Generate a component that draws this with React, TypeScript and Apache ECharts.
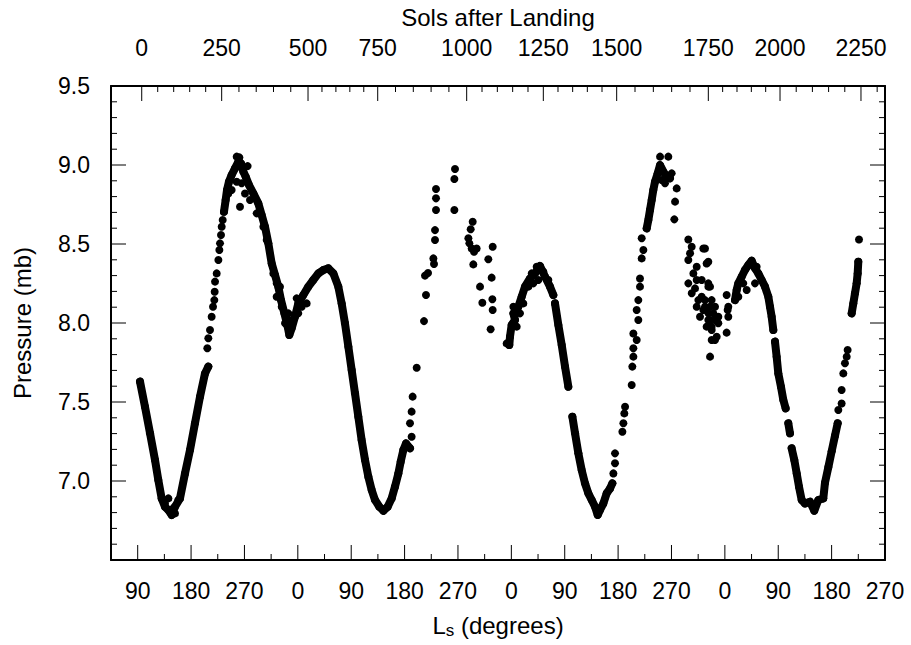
import React, { useEffect, useRef } from "react";
import * as echarts from "echarts";

// ---- axis definitions (cumulative Ls in degrees on the x scale) ----
const lsMin = 45;
const lsMax = 1350;
const lsMajorTicks = [90, 180, 270, 360, 450, 540, 630, 720, 810, 900, 990, 1080, 1170, 1260, 1350];
const lsMinorTicks = [135, 225, 315, 405, 495, 585, 675, 765, 855, 945, 1035, 1125, 1215, 1305];
const solTickLabels = [0, 250, 500, 750, 1000, 1250, 1500, 1750, 2000, 2250];
// positions (cumulative Ls) of the sol ticks
const solTickLs = [96.8, 231.6, 377.2, 494.7, 644.7, 773.9, 897.6, 1052.1, 1173.0, 1309.5];
const pMin = 6.5;
const pMax = 9.5;
const pMajorTicks = [6.5, 7.0, 7.5, 8.0, 8.5, 9.0, 9.5];
const pMinorTicks = [
  6.6, 6.7, 6.8, 6.9, 7.1, 7.2, 7.3, 7.4, 7.6, 7.7, 7.8, 7.9, 8.1, 8.2, 8.3, 8.4,
  8.6, 8.7, 8.8, 8.9, 9.1, 9.2, 9.3, 9.4,
];

// ---- data: [cumulative Ls (deg), pressure (mb)] ----
const trace1 = [
  [93.9, 7.629], [102.3, 7.47], [110.8, 7.302], [119.2, 7.133], [124.8, 7.006], [130.4, 6.89],
  [136.0, 6.837], [141.7, 6.816], [147.3, 6.785], [152.9, 6.837], [161.3, 6.89], [169.8, 7.048],
  [178.2, 7.196], [186.6, 7.365], [195.1, 7.534], [203.5, 7.681], [209.1, 7.724],
];
const trace2 = [
  [235.5, 8.704], [238.3, 8.778], [240.6, 8.842], [243.9, 8.894], [248.4, 8.937], [254.1, 8.979],
  [259.7, 9.021], [264.2, 9.01], [268.1, 8.958], [272.1, 8.926], [277.7, 8.873], [285.0, 8.82],
  [293.4, 8.757], [299.0, 8.684], [304.7, 8.609], [310.3, 8.504], [315.9, 8.377], [321.5, 8.304],
  [327.1, 8.23], [331.6, 8.145], [337.3, 8.061], [342.9, 7.977], [345.7, 7.924], [349.6, 7.966],
  [355.2, 8.04], [360.8, 8.124], [369.3, 8.177], [377.7, 8.23], [386.1, 8.272], [394.6, 8.314],
  [403.0, 8.335], [411.4, 8.346], [419.9, 8.314], [428.3, 8.23], [433.9, 8.124], [439.5, 7.998],
  [445.2, 7.85], [450.8, 7.702], [456.4, 7.555], [462.0, 7.407], [467.6, 7.259], [473.3, 7.133],
  [478.9, 7.027], [484.5, 6.943], [490.1, 6.88], [497.4, 6.837], [504.2, 6.812], [511.5, 6.837],
  [518.2, 6.89], [523.8, 6.964], [529.5, 7.048], [533.4, 7.122], [537.9, 7.196], [542.4, 7.238],
  [549.1, 7.207],
];
const trace3 = [
  [716.6, 7.861], [717.7, 7.913], [720.5, 7.987], [726.2, 8.019], [723.4, 8.061], [731.8, 8.103],
  [737.4, 8.166], [743.0, 8.23], [751.5, 8.282], [759.9, 8.314], [768.3, 8.361], [776.8, 8.293],
  [785.2, 8.23], [790.8, 8.177],
];
const trace4 = [[793.6, 8.124], [799.3, 7.987], [804.9, 7.861], [810.5, 7.724], [816.1, 7.597]];
const trace5 = [
  [822.9, 7.407], [827.4, 7.302], [833.0, 7.175], [838.6, 7.069], [844.2, 6.985], [849.8, 6.922],
  [855.5, 6.88], [861.1, 6.837], [865.6, 6.785], [869.5, 6.816], [875.1, 6.858], [880.8, 6.922],
  [886.4, 6.953], [890.3, 6.985],
];
const trace6 = [
  [948.2, 8.599], [951.0, 8.652], [953.8, 8.715], [956.6, 8.778], [959.4, 8.842], [962.2, 8.894],
  [966.7, 8.947], [970.7, 8.999], [976.3, 8.958], [981.9, 8.926], [987.5, 8.916],
];
const trace7 = [
  [1097.1, 8.145], [1099.9, 8.209], [1102.7, 8.251], [1108.3, 8.293], [1113.9, 8.335], [1119.6, 8.367],
  [1125.2, 8.394], [1130.8, 8.346], [1136.4, 8.314], [1142.0, 8.272], [1147.7, 8.23], [1153.3, 8.166],
  [1156.1, 8.103], [1158.9, 8.04], [1161.7, 7.956],
];
const trace8 = [[1164.5, 7.882], [1167.3, 7.787], [1170.1, 7.681], [1174.6, 7.597], [1178.6, 7.513], [1182.5, 7.46]];
const trace8b = [[1187.0, 7.365], [1189.8, 7.302]];
const trace9 = [
  [1192.6, 7.207], [1197.1, 7.133], [1201.1, 7.048], [1205.0, 6.964], [1209.5, 6.88], [1215.1, 6.858],
  [1223.5, 6.869], [1230.8, 6.812], [1237.6, 6.88], [1246.0, 6.89], [1248.8, 6.989], [1254.5, 7.088],
  [1260.1, 7.188], [1265.7, 7.287], [1270.2, 7.365],
];
const trace10 = [[1293.8, 8.061], [1296.6, 8.124], [1299.4, 8.188], [1302.2, 8.251], [1303.9, 8.314], [1305.0, 8.388]];

const scatterYear1 = [
  [136.0, 6.858], [141.7, 6.89], [152.9, 6.795], [158.5, 6.88], [150.1, 6.827],
  [207.4, 7.84], [209.1, 7.903], [211.9, 7.956], [214.7, 8.04], [217.0, 8.103], [219.2, 8.145],
  [219.8, 8.198], [220.4, 8.262], [223.2, 8.314], [226.0, 8.399], [227.7, 8.462], [228.8, 8.504],
  [230.5, 8.557], [231.6, 8.609], [233.3, 8.652],
  [256.9, 9.053], [261.4, 9.048], [275.4, 8.993], [262.5, 8.736], [248.4, 8.842], [256.9, 8.894],
  [265.3, 8.884], [270.9, 8.82], [279.4, 8.778], [242.8, 8.82], [290.6, 8.694], [301.9, 8.609],
  [307.5, 8.525], [318.7, 8.314], [324.3, 8.251],
  [324.3, 8.166], [332.8, 8.103], [338.4, 7.998], [349.6, 8.019], [358.0, 8.156], [366.5, 8.103],
  [374.9, 8.124], [360.8, 8.061], [329.9, 8.23], [344.0, 8.061],
];
const scatterYear2 = [
  [551.9, 7.28], [549.1, 7.365], [551.9, 7.439], [553.6, 7.534], [560.4, 7.717], [572.7, 8.012],
  [576.1, 8.177], [574.4, 8.3], [579.5, 8.316], [589.6, 8.373], [588.5, 8.409], [591.3, 8.525],
  [591.3, 8.588], [593.0, 8.715], [593.0, 8.789], [593.0, 8.848], [623.9, 8.715], [623.9, 8.911],
  [625.0, 8.975], [654.8, 8.641], [651.4, 8.593], [647.5, 8.536], [649.2, 8.504], [653.1, 8.472],
  [657.1, 8.451], [661.5, 8.472], [655.9, 8.371], [667.2, 8.23], [671.1, 8.128], [681.2, 8.403],
  [688.5, 8.483], [686.8, 8.287], [688.0, 8.15], [688.5, 8.082], [685.1, 7.96],
  [712.1, 7.871], [723.4, 8.103], [729.0, 7.977], [734.6, 8.061], [740.2, 8.124], [748.7, 8.23],
  [757.1, 8.251], [754.3, 8.314], [762.7, 8.356], [765.5, 8.272], [774.0, 8.325], [782.4, 8.272],
];
const scatterYear3 = [
  [892.0, 7.048], [894.8, 7.112], [894.8, 7.175], [907.2, 7.312], [908.9, 7.365], [910.5, 7.428],
  [911.7, 7.47], [922.9, 7.608], [924.0, 7.724], [925.7, 7.787], [925.7, 7.84], [931.3, 7.892],
  [925.7, 7.934], [934.1, 8.019], [931.3, 8.082], [934.1, 8.145], [936.9, 8.23], [936.9, 8.282],
  [939.8, 8.409], [942.6, 8.462], [939.8, 8.536],
  [970.7, 9.053], [984.7, 9.053], [973.5, 8.905], [979.1, 8.884], [990.3, 8.947], [998.8, 8.852],
  [996.0, 8.768], [994.8, 8.656],
  [1018.4, 8.529], [1024.1, 8.483], [1043.7, 8.472], [1018.4, 8.399], [1032.5, 8.356], [1049.3, 8.377],
  [1018.4, 8.251], [1029.7, 8.219], [1040.9, 8.272], [1052.2, 8.23], [1035.3, 8.145], [1046.5, 8.103],
  [1038.1, 8.04], [1052.2, 8.061], [1049.3, 7.977], [1057.8, 7.956], [1057.8, 7.892], [1055.0, 7.787],
  [1021.3, 8.441], [1026.9, 8.314], [1032.5, 8.272], [1024.1, 8.188], [1040.9, 8.166], [1043.7, 8.082],
  [1032.5, 8.103], [1055.0, 8.019],
];
const scatterYear4 = [
  [1046.5, 8.472], [1052.1, 8.388], [1052.1, 8.251], [1055.0, 8.23], [1046.5, 8.145], [1049.3, 8.082],
  [1057.7, 8.145], [1063.4, 8.103], [1060.6, 8.061], [1069.0, 8.04], [1052.1, 8.019], [1057.7, 7.977],
  [1066.2, 7.913], [1063.4, 7.892], [1069.0, 7.998], [1063.4, 8.019], [1055.0, 8.103],
  [1083.0, 8.177], [1085.8, 8.103], [1085.8, 8.04], [1083.0, 7.939], [1084.7, 8.082],
  [1116.8, 8.209], [1130.8, 8.251], [1111.1, 8.251], [1102.7, 8.166], [1133.6, 8.356],
  [1271.3, 7.449], [1276.9, 7.491], [1276.9, 7.576], [1279.7, 7.681], [1282.5, 7.745], [1285.4, 7.787],
  [1287.0, 7.829], [1306.2, 8.529],
];

const traces = [trace1, trace2, trace3, trace4, trace5, trace6, trace7, trace8, trace8b, trace9, trace10];
const scatters = [scatterYear1, scatterYear2, scatterYear3, scatterYear4];

// minor sol ticks every 50 sols, placed between the read major tick positions
const solMinorLs: number[] = [];
for (let i = 0; i < solTickLs.length - 1; i++) {
  for (let k = 1; k < 5; k++) solMinorLs.push(solTickLs[i] + ((solTickLs[i + 1] - solTickLs[i]) * k) / 5);
}
solMinorLs.push(solTickLs[9] + (solTickLs[9] - solTickLs[8]) / 5);

const FONT = "'Liberation Sans', Arial, Helvetica, sans-serif";
const BLACK = "#000";
const DOT = 8;
const MAJOR_LEN = 15;
const MINOR_LEN = 6;

// inward tick marks drawn by a custom series through the chart's own scales
function tickSeries(points: number[][], dx: number, dy: number) {
  return {
    type: "custom",
    xAxisIndex: 0,
    yAxisIndex: 0,
    silent: true,
    clip: false,
    z: 5,
    data: points,
    renderItem: (_params: any, api: any) => {
      const p = api.coord([api.value(0), api.value(1)]);
      return {
        type: "line",
        shape: { x1: p[0], y1: p[1], x2: p[0] + dx, y2: p[1] + dy },
        style: { stroke: BLACK, lineWidth: 1 },
      };
    },
  };
}

function buildOption() {
  const lineStyleAxis = { color: BLACK, width: 2 };
  const xBase = { type: "value", min: lsMin, max: lsMax, splitLine: { show: false }, axisTick: { show: false } };
  const yBase = {
    type: "value", min: pMin, max: pMax, interval: 0.5, splitLine: { show: false }, axisTick: { show: false },
  };
  const labelStyle = { color: BLACK, fontSize: 23, fontFamily: FONT };

  return {
    animation: false,
    backgroundColor: "#fff",
    grid: { left: 111, right: 26, top: 86, bottom: 85, containLabel: false, outerBoundsMode: "none" },
    xAxis: [
      {
        ...xBase,
        position: "bottom",
        axisLine: { show: true, lineStyle: lineStyleAxis },
        axisLabel: {
          ...labelStyle,
          margin: 19,
          customValues: lsMajorTicks,
          formatter: (v: number) => String(Math.round(v) % 360),
        },
        name: "{a|L}{b|s}{a| (degrees)}",
        nameLocation: "middle",
        nameGap: 53,
        nameTextStyle: {
          color: BLACK,
          fontFamily: FONT,
          rich: {
            a: { fontSize: 24, fontFamily: FONT, color: BLACK, lineHeight: 24, verticalAlign: "top" },
            b: { fontSize: 17, fontFamily: FONT, color: BLACK, lineHeight: 17, verticalAlign: "top", padding: [9, 0, 0, 0] },
          },
        },
      },
      {
        ...xBase,
        position: "top",
        axisLine: { show: true, lineStyle: lineStyleAxis },
        axisLabel: {
          ...labelStyle,
          margin: 27,
          customValues: solTickLs,
          formatter: (v: number) => {
            const i = solTickLs.findIndex((s) => Math.abs(s - v) < 0.01);
            return i >= 0 ? String(solTickLabels[i]) : "";
          },
        },
        name: "Sols after Landing",
        nameLocation: "middle",
        nameGap: 57,
        nameTextStyle: { color: BLACK, fontSize: 24, fontFamily: FONT },
      },
    ],
    yAxis: [
      {
        ...yBase,
        position: "left",
        axisLine: { show: true, lineStyle: lineStyleAxis },
        axisLabel: { ...labelStyle, margin: 21, showMinLabel: false, formatter: (v: number) => v.toFixed(1) },
        name: "Pressure (mb)",
        nameLocation: "middle",
        nameGap: 77,
        nameTextStyle: { color: BLACK, fontSize: 24, fontFamily: FONT },
      },
      {
        ...yBase,
        position: "right",
        axisLine: { show: true, lineStyle: lineStyleAxis },
        axisLabel: { show: false },
      },
    ],
    series: [
      ...traces.map((d) => ({
        type: "line",
        xAxisIndex: 0,
        yAxisIndex: 0,
        data: d,
        symbol: "circle",
        symbolSize: DOT,
        showSymbol: true,
        silent: true,
        itemStyle: { color: BLACK, opacity: 1 },
        lineStyle: { color: BLACK, width: DOT, cap: "round", join: "round", opacity: 1 },
      })),
      ...scatters.map((d) => ({
        type: "scatter",
        xAxisIndex: 0,
        yAxisIndex: 0,
        data: d,
        symbol: "circle",
        symbolSize: DOT,
        silent: true,
        itemStyle: { color: BLACK, opacity: 1 },
      })),
      tickSeries(lsMajorTicks.map((v) => [v, pMin]), 0, -MAJOR_LEN),
      tickSeries(lsMinorTicks.map((v) => [v, pMin]), 0, -MINOR_LEN),
      tickSeries(solTickLs.map((v) => [v, pMax]), 0, MAJOR_LEN),
      tickSeries(solMinorLs.map((v) => [v, pMax]), 0, MINOR_LEN),
      tickSeries(pMajorTicks.map((v) => [lsMin, v]), MAJOR_LEN, 0),
      tickSeries(pMinorTicks.map((v) => [lsMin, v]), MINOR_LEN, 0),
      tickSeries(pMajorTicks.map((v) => [lsMax, v]), -MAJOR_LEN, 0),
      tickSeries(pMinorTicks.map((v) => [lsMax, v]), -MINOR_LEN, 0),
    ],
  };
}

export default function App() {
  const ref = useRef<HTMLDivElement>(null);
  useEffect(() => {
    if (!ref.current) return;
    const chart = echarts.init(ref.current, null, { renderer: "svg" });
    chart.setOption(buildOption() as any);
    return () => chart.dispose();
  }, []);
  return (
    <div
      ref={ref}
      style={{ position: "fixed", left: 0, top: 0, width: 911, height: 645, background: "#fff" }}
    />
  );
}
